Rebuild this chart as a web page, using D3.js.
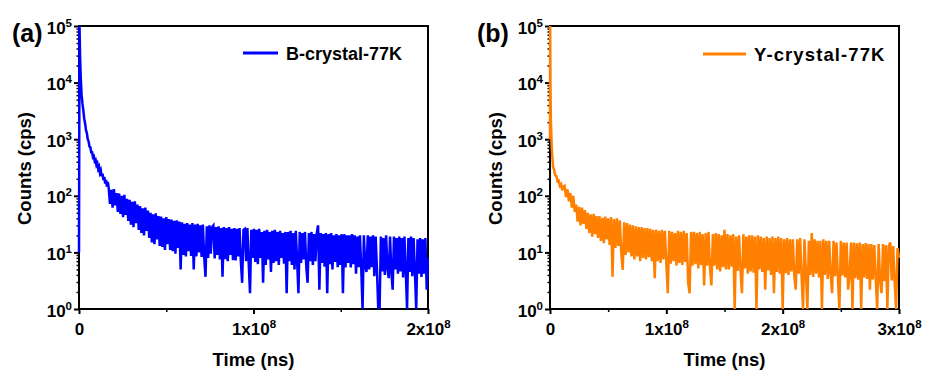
<!DOCTYPE html>
<html>
<head>
<meta charset="utf-8">
<script src="https://cdn.jsdelivr.net/npm/d3@7"></script>
<style>
  body { margin: 0; background: #fff; }
  text { font-family: "Liberation Sans", Arial, sans-serif; font-weight: bold; fill: #000; }
</style>
</head>
<body>
<figure id="decay" style="margin:0"></figure>
<script>
// time in units of 1e6 ns, counts in cps
const timeB = [
  0, 0.3, 0.6, 1.0, 1.5,
  2, 2.5, 3, 3.5, 4, 4.5, 5, 5.5, 6, 6.5,
  7, 7.5, 8, 8.5, 9, 9.5, 10, 10.5, 11, 11.5,
  12, 12.5, 13, 13.5, 14, 14.5, 15, 15.5, 16, 16.5,
  17, 17.75, 18.5, 19.25, 20, 20.75, 21.5, 22.25,
  23, 23.75, 24.5, 25.25, 26, 26.75, 27.5, 28.25,
  29, 29.75, 30.5, 31.25, 32, 32.75, 33.5, 34.25,
  35, 35.75, 36.5, 37.25, 38, 38.75, 39.5, 40.25,
  41, 41.75, 42.5, 43.25, 44, 44.75, 45.5, 46.25,
  47, 47.75, 48.5, 49.25, 50, 50.75, 51.5, 52.25,
  53, 53.75, 54.5, 55.25, 56, 56.75, 57.5, 58.25,
  59, 59.75, 60.5, 61.25, 62, 62.75, 63.5, 64.25,
  65, 65.75, 66.5, 67.25, 68, 68.75, 69.5, 70.25,
  71, 71.75, 72.5, 73.25, 74, 74.75, 75.5, 76.25,
  77, 77.75, 78.5, 79.25, 80, 80.75, 81.5, 82.25,
  83, 83.75, 84.5, 85.25, 86, 86.75, 87.5, 88.25,
  89, 89.75, 90.5, 91.25, 92, 92.75, 93.5, 94.25,
  95, 95.75, 96.5, 97.25, 98, 98.75, 99.5, 100.25,
  101, 101.75, 102.5, 103.25, 104, 104.75, 105.5, 106.25,
  107, 107.75, 108.5, 109.25, 110, 110.75, 111.5, 112.25,
  113, 113.75, 114.5, 115.25, 116, 116.75, 117.5, 118.25,
  119, 119.75, 120.5, 121.25, 122, 122.75, 123.5, 124.25,
  125, 125.75, 126.5, 127.25, 128, 128.75, 129.5, 130.25,
  131, 131.75, 132.5, 133.25, 134, 134.75, 135.5, 136.25,
  137, 137.75, 138.5, 139.25, 140, 140.75, 141.5, 142.25,
  143, 143.75, 144.5, 145.25, 146, 146.75, 147.5, 148.25,
  149, 149.75, 150.5, 151.25, 152, 152.75, 153.5, 154.25,
  155, 155.75, 156.5, 157.25, 158, 158.75, 159.5, 160.25,
  161, 161.75, 162.5, 163.25, 164, 164.75, 165.5, 166.25,
  167, 167.75, 168.5, 169.25, 170, 170.75, 171.5, 172.25,
  173, 173.75, 174.5, 175.25, 176, 176.75, 177.5, 178.25,
  179, 179.75, 180.5, 181.25, 182, 182.75, 183.5, 184.25,
  185, 185.75, 186.5, 187.25, 188, 188.75, 189.5, 190.25,
  191, 191.75, 192.5, 193.25, 194, 194.75, 195.5, 196.25,
  197, 197.75, 198.5, 199.25, 200
];
const countsB = [
  10, 100000, 30000, 12000, 6000,
  4200, 3200, 2300, 1900, 1450, 1280, 1000, 920, 740, 720,
  590, 590, 480, 500, 410, 430, 350, 375, 300, 325,
  255, 280, 220, 245, 190, 215, 165, 190, 145, 175,
  140, 72, 128, 62, 132, 68, 112, 52,
  110, 48, 100, 42, 104, 46, 88, 36,
  85, 31, 78, 28, 80, 33, 70, 25,
  66, 22, 60, 20, 62, 24, 55, 18,
  50, 15, 47, 14, 49, 17, 44, 13,
  43, 12.5, 40, 11, 42, 14, 39, 11,
  38, 10.5, 36, 9.5, 37, 12, 35, 5,
  34, 9, 32, 8.5, 33, 10.5, 31, 8.7,
  33, 5, 31, 8.5, 32, 10, 30, 8.3,
  31, 8.2, 3.7, 29, 8, 30, 9.5, 28,
  30, 7.8, 28, 9, 29, 7.5, 27, 3.7,
  28, 7.6, 27, 7, 28, 9, 26, 7.3,
  27, 7.2, 26, 8.5, 27, 7, 2.9, 25,
  26, 7, 27, 6.5, 1.9, 25, 8, 26,
  6.8, 25, 6.2, 26, 8, 23, 2.9, 24,
  6, 25, 7.5, 23, 4.5, 24, 6.5, 25,
  7, 23, 6, 24, 8, 22, 6.3, 23,
  1.9, 23, 7, 24, 6, 22, 5, 24,
  7, 1.9, 23, 6.5, 22, 7.5, 23, 5.5,
  2.9, 22, 7, 23, 6, 21, 7, 22,
  30, 2.2, 22, 6.5, 21, 5.6, 22, 1.9,
  21, 6.2, 22, 5, 20, 6.8, 21, 5.5,
  20, 6, 21, 1.9, 21, 5.4, 20, 6.5,
  20, 5.4, 21, 6.2, 20, 4.2, 19, 5.5,
  20, 5.2, 1, 20, 5.8, 4.5, 20, 5,
  19, 5.5, 20, 3.8, 19, 5, 1, 1,
  19, 4.6, 18, 4, 20, 5.2, 3.5, 19,
  4.5, 2.2, 19, 5, 18, 4.2, 19, 4.6,
  18, 3.6, 19, 4.8, 1, 18, 4.5, 19,
  3.8, 18, 4.5, 1, 17, 4.2, 18, 3.7,
  17, 4.2, 18, 2.2, 8
];

const timeY = [
  0, 0.15, 0.4, 0.8, 1.5, 2.6, 3.5, 4.5, 5.5, 6.5,
  7.5, 8.5, 9.5, 10.5, 11.5,
  12.5, 13.75, 15, 16.25, 17.5, 18.75, 20, 21.25,
  22.5, 23.75, 25, 26.25, 27.5, 28.75, 30, 31.25,
  32.5, 33.75, 35, 36.25, 37.5, 38.75, 40, 41.25,
  42.5, 43.75, 45, 46.25, 47.5, 48.75, 50, 51.25,
  52.5, 53.75, 55, 56.25, 57.5, 58.75, 60, 61.25,
  62.5, 63.75, 65, 66.25, 67.5, 68.75, 70, 71.25,
  72.5, 73.75, 75, 76.25, 77.5, 78.75, 80, 81.25,
  82.5, 83.75, 85, 86.25, 87.5, 88.75, 90, 91.25,
  92.5, 93.75, 95, 96.25, 97.5, 98.75, 100, 101.25,
  102.5, 103.75, 105, 106.25, 107.5, 108.75, 110, 111.25,
  112.5, 113.75, 115, 116.25, 117.5, 118.75, 120, 121.25,
  122.5, 123.75, 125, 126.25, 127.5, 128.75, 130, 131.25,
  132.5, 133.75, 135, 136.25, 137.5, 138.75, 140, 141.25,
  142.5, 143.75, 145, 146.25, 147.5, 148.75, 150, 151.25,
  152.5, 153.75, 155, 156.25, 157.5, 158.75, 160, 161.25,
  162.5, 163.75, 165, 166.25, 167.5, 168.75, 170, 171.25,
  172.5, 173.75, 175, 176.25, 177.5, 178.75, 180, 181.25,
  182.5, 183.75, 185, 186.25, 187.5, 188.75, 190, 191.25,
  192.5, 193.75, 195, 196.25, 197.5, 198.75, 200, 201.25,
  202.5, 203.75, 205, 206.25, 207.5, 208.75, 210, 211.25,
  212.5, 213.75, 215, 216.25, 217.5, 218.75, 220, 221.25,
  222.5, 223.75, 225, 226.25, 227.5, 228.75, 230, 231.25,
  232.5, 233.75, 235, 236.25, 237.5, 238.75, 240, 241.25,
  242.5, 243.75, 245, 246.25, 247.5, 248.75, 250, 251.25,
  252.5, 253.75, 255, 256.25, 257.5, 258.75, 260, 261.25,
  262.5, 263.75, 265, 266.25, 267.5, 268.75, 270, 271.25,
  272.5, 273.75, 275, 276.25, 277.5, 278.75, 280, 281.25,
  282.5, 283.75, 285, 286.25, 287.5, 288.75, 290, 291.25,
  292.5, 293.75, 295, 296.25, 297.5, 298.75, 300
];
const countsY = [
  1000, 100000, 9000, 2000, 700, 330, 290, 230, 225, 180,
  185, 150, 160, 125, 145,
  150, 95, 130, 80, 112, 62, 100, 52,
  70, 35, 64, 30, 62, 32, 56, 26,
  50, 22, 47, 19, 48, 21, 44, 18,
  44, 16, 41, 14.5, 43, 17, 40, 13.5,
  42, 3.7, 39, 12, 40, 13, 37, 10,
  4.9, 34, 9, 33, 10, 31, 8.5, 30,
  7.5, 29, 8.5, 28, 7, 28, 8, 27,
  7.5, 27, 8.2, 26, 7, 25, 3.5, 25,
  7, 24, 6.5, 25, 7.5, 24, 6.5, 1.9,
  24, 6.3, 23, 7, 22, 5.8, 24, 6.5,
  23, 6, 24, 6.8, 22, 2.9, 1.9, 23,
  5.8, 23, 6.2, 22, 5.2, 23, 6, 21,
  2.6, 22, 5.8, 23, 5.3, 2.6, 21, 5.8,
  22, 5, 21, 4.6, 20, 5.5, 25, 5,
  21, 5, 20, 5.6, 21, 1, 19, 4.7,
  20, 4.8, 1.9, 21, 5.2, 19, 4.2, 20,
  4.6, 20, 4.4, 19, 1, 20, 5, 19,
  4.5, 18, 2.2, 19, 4.8, 18, 4, 19,
  1.9, 18, 4.5, 19, 4.2, 18, 1, 17,
  4.3, 18, 4, 17, 4.6, 17, 3.8, 2.2,
  17, 4.2, 18, 3.8, 1, 17, 4.3, 1,
  16, 4, 22, 3.7, 17, 4.2, 16, 3.6,
  16, 1, 17, 4, 16, 3.4, 16, 4,
  1.9, 16, 3.8, 15, 3.5, 1, 16, 3.9,
  15, 3.6, 15, 2.2, 3.8, 15, 1, 15,
  3.5, 14.5, 3.3, 15, 1, 14, 3.6, 14.7,
  3.4, 14, 2.2, 14, 3.3, 13.5, 3.5, 1,
  14, 3.2, 1.9, 14, 3.1, 13.5, 1, 13,
  15, 3.2, 13, 3, 1, 12, 8
];

const yMajor = [1, 10, 100, 1000, 10000, 100000];
const yLabels = ["10^0", "10^1", "10^2", "10^3", "10^4", "10^5"];
const xMajorB = [0, 1e8, 2e8];
const xLabelsB = ["0", "1x10^8", "2x10^8"];
const xMajorY = [0, 1e8, 2e8, 3e8];
const xLabelsY = ["0", "1x10^8", "2x10^8", "3x10^8"];

const width = 927, height = 372;
const plotTop = 26, plotBottom = 309;

const panels = [
  { id: "a", x0: 79, x1: 428, xMax: 2e8, minor: 4, time: timeB, counts: countsB,
    ticks: xMajorB, labels: xLabelsB, color: "#0000FF", legend: "B-crystal-77K",
    tag: "(a)", tagX: 12, legX: 243, legW: 35, legY: 53, legFont: 18, legSpace: 0 },
  { id: "b", x0: 550, x1: 899, xMax: 3e8, minor: 6, time: timeY, counts: countsY,
    ticks: xMajorY, labels: xLabelsY, color: "#FF8000", legend: "Y-crystal-77K",
    tag: "(b)", tagX: 477, legX: 703, legW: 43, legY: 54, legFont: 18.5, legSpace: 1.1 }
];

const svg = d3.select("figure#decay")
  .append("svg")
  .attr("width", width)
  .attr("height", height);

svg.append("rect").attr("width", width).attr("height", height).attr("fill", "#fff");

// "10^5" -> 10 with a raised 5
function supLabel() {
  const t = d3.select(this);
  const parts = t.text().split("^");
  t.text(parts[0]);
  if (parts[1]) t.append("tspan").attr("dy", -7).attr("font-size", 11.5).text(parts[1]);
}

function drawPanel(p) {
  const x = d3.scaleLinear().domain([0, p.xMax]).range([p.x0, p.x1]);
  const y = d3.scaleLog().domain([1, 1e5]).range([plotBottom, plotTop]);

  // frame
  svg.append("rect")
    .attr("x", p.x0).attr("y", plotTop)
    .attr("width", p.x1 - p.x0).attr("height", plotBottom - plotTop)
    .attr("fill", "none").attr("stroke", "#000").attr("stroke-width", 2);

  // y axis, major + minor
  const yAxis = svg.append("g")
    .attr("transform", `translate(${p.x0},0)`)
    .call(d3.axisLeft(y).tickValues(yMajor).tickSize(5).tickPadding(2)
      .tickFormat((d, i) => yLabels[i]));
  yAxis.attr("font-size", 17);
  yAxis.select(".domain").remove();
  yAxis.selectAll("line").attr("stroke-width", 2);
  yAxis.selectAll("text").attr("dy", "0.42em").each(supLabel);

  const yMinor = y.ticks().filter(v => !yMajor.includes(v));
  const yMin = svg.append("g")
    .attr("transform", `translate(${p.x0},0)`)
    .call(d3.axisLeft(y).tickValues(yMinor).tickSize(2.5).tickFormat(""));
  yMin.select(".domain").remove();
  yMin.selectAll("line").attr("stroke-width", 1.5);

  // x axis
  const xAxis = svg.append("g")
    .attr("transform", `translate(0,${plotBottom})`)
    .call(d3.axisBottom(x).tickValues(p.ticks).tickSize(5).tickPadding(9)
      .tickFormat((d, i) => p.labels[i]));
  xAxis.attr("font-size", 17);
  xAxis.select(".domain").remove();
  xAxis.selectAll("line").attr("stroke-width", 2);
  xAxis.selectAll("text").each(supLabel);

  const xMinor = x.ticks(p.minor).filter(v => !p.ticks.includes(v));
  const xMin = svg.append("g")
    .attr("transform", `translate(0,${plotBottom})`)
    .call(d3.axisBottom(x).tickValues(xMinor).tickSize(3).tickFormat(""));
  xMin.select(".domain").remove();
  xMin.selectAll("line").attr("stroke-width", 1.5);

  // data
  svg.append("clipPath").attr("id", "clip-" + p.id)
    .append("rect")
    .attr("x", p.x0 - 2).attr("y", plotTop - 1)
    .attr("width", p.x1 - p.x0 + 3).attr("height", plotBottom - plotTop + 1);

  const line = d3.line()
    .x((d, i) => x(p.time[i] * 1e6))
    .y(d => y(d));

  svg.append("path")
    .datum(p.counts)
    .attr("clip-path", `url(#clip-${p.id})`)
    .attr("fill", "none")
    .attr("stroke", p.color)
    .attr("stroke-width", 2.5)
    .attr("stroke-linejoin", "miter")
    .attr("d", line);

  // titles
  svg.append("text")
    .attr("x", (p.x0 + p.x1) / 2).attr("y", 366)
    .attr("text-anchor", "middle").attr("font-size", 18.5)
    .text("Time (ns)");

  svg.append("text")
    .attr("transform", `translate(${p.x0 - 48.5},${(plotTop + plotBottom) / 2 + 1}) rotate(-90)`)
    .attr("text-anchor", "middle").attr("font-size", 18.5)
    .text("Counts (cps)");

  svg.append("text")
    .attr("x", p.tagX).attr("y", 42)
    .attr("font-size", 25)
    .text(p.tag);

  // legend
  svg.append("line")
    .attr("x1", p.legX).attr("x2", p.legX + p.legW)
    .attr("y1", p.legY).attr("y2", p.legY)
    .attr("stroke", p.color).attr("stroke-width", 3);
  svg.append("text")
    .attr("x", p.legX + p.legW + 8).attr("y", p.legY + 6.5)
    .attr("font-size", p.legFont)
    .attr("letter-spacing", p.legSpace)
    .text(p.legend);
}

panels.forEach(drawPanel);
</script>
</body>
</html>
